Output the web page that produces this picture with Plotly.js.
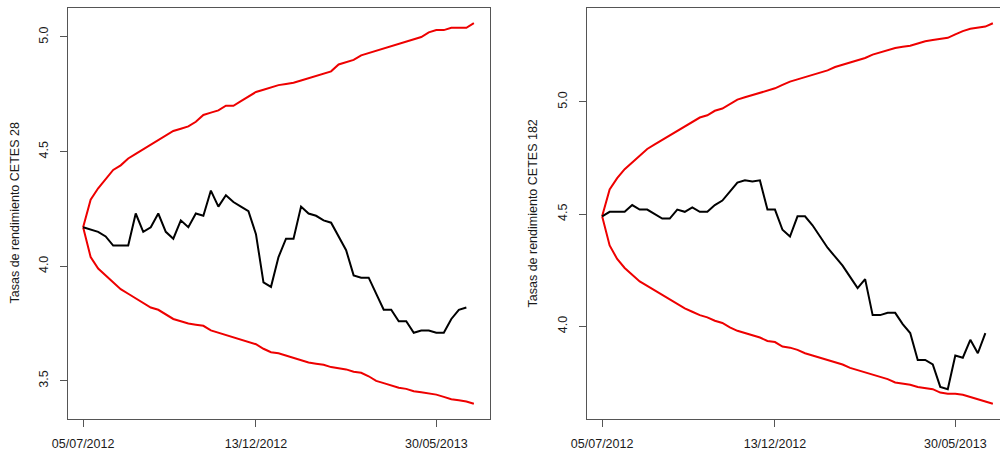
<!DOCTYPE html>
<html>
<head>
<meta charset="utf-8">
<script src="https://cdn.plot.ly/plotly-3.0.1.min.js"></script>
<style>
  html, body { margin: 0; padding: 0; overflow: hidden; background: #ffffff; }
  #chart { width: 1010px; height: 459px; }
</style>
</head>
<body>
<div id="chart"></div>
<script>
// Weekly observations starting on this date
const startDate = '2012-07-05';
const tickDates = ['2012-07-05', '2012-12-13', '2013-05-30'];

// CETES 28: observed rate and upper/lower band
const cetes28 = [4.17, 4.16, 4.15, 4.13, 4.09, 4.09, 4.09, 4.23, 4.15, 4.17,
  4.23, 4.15, 4.12, 4.20, 4.17, 4.23, 4.22, 4.33, 4.26, 4.31,
  4.28, 4.26, 4.24, 4.14, 3.93, 3.91, 4.04, 4.12, 4.12, 4.26,
  4.23, 4.22, 4.20, 4.19, 4.13, 4.07, 3.96, 3.95, 3.95, 3.88,
  3.81, 3.81, 3.76, 3.76, 3.71, 3.72, 3.72, 3.71, 3.71, 3.77,
  3.81, 3.82];
const cetes28Upper = [4.17, 4.29, 4.34, 4.38, 4.42, 4.44, 4.47, 4.49, 4.51, 4.53,
  4.55, 4.57, 4.59, 4.60, 4.61, 4.63, 4.66, 4.67, 4.68, 4.70,
  4.70, 4.72, 4.74, 4.76, 4.77, 4.78, 4.79, 4.795, 4.80, 4.81,
  4.82, 4.83, 4.84, 4.85, 4.88, 4.89, 4.90, 4.92, 4.93, 4.94,
  4.95, 4.96, 4.97, 4.98, 4.99, 5.00, 5.02, 5.03, 5.03, 5.04,
  5.04, 5.04, 5.06];
const cetes28Lower = [4.17, 4.04, 3.99, 3.96, 3.93, 3.90, 3.88, 3.86, 3.84, 3.82,
  3.81, 3.79, 3.77, 3.76, 3.75, 3.745, 3.74, 3.72, 3.71, 3.70,
  3.69, 3.68, 3.67, 3.66, 3.64, 3.625, 3.62, 3.61, 3.60, 3.59,
  3.58, 3.575, 3.57, 3.56, 3.555, 3.55, 3.54, 3.535, 3.52, 3.50,
  3.49, 3.48, 3.47, 3.465, 3.455, 3.45, 3.445, 3.44, 3.43, 3.42,
  3.415, 3.41, 3.40];

// CETES 182: observed rate and upper/lower band
const cetes182 = [4.49, 4.51, 4.51, 4.51, 4.54, 4.52, 4.52, 4.50, 4.48, 4.48,
  4.52, 4.51, 4.53, 4.51, 4.51, 4.54, 4.56, 4.60, 4.64, 4.65,
  4.645, 4.65, 4.52, 4.52, 4.43, 4.40, 4.49, 4.49, 4.45, 4.40,
  4.35, 4.31, 4.27, 4.22, 4.17, 4.21, 4.05, 4.05, 4.06, 4.06,
  4.01, 3.97, 3.85, 3.85, 3.83, 3.73, 3.72, 3.87, 3.86, 3.94,
  3.88, 3.97];
const cetes182Upper = [4.49, 4.61, 4.66, 4.70, 4.73, 4.76, 4.79, 4.81, 4.83, 4.85,
  4.87, 4.89, 4.91, 4.93, 4.94, 4.96, 4.97, 4.99, 5.01, 5.02,
  5.03, 5.04, 5.05, 5.06, 5.075, 5.09, 5.10, 5.11, 5.12, 5.13,
  5.14, 5.155, 5.165, 5.175, 5.185, 5.195, 5.21, 5.22, 5.23, 5.24,
  5.245, 5.25, 5.26, 5.27, 5.275, 5.28, 5.285, 5.30, 5.315, 5.325,
  5.33, 5.335, 5.35];
const cetes182Lower = [4.49, 4.36, 4.30, 4.26, 4.23, 4.20, 4.18, 4.16, 4.14, 4.12,
  4.10, 4.08, 4.065, 4.05, 4.04, 4.025, 4.015, 3.995, 3.98, 3.97,
  3.96, 3.95, 3.935, 3.93, 3.91, 3.905, 3.895, 3.88, 3.87, 3.86,
  3.85, 3.84, 3.83, 3.815, 3.805, 3.795, 3.785, 3.775, 3.765, 3.75,
  3.745, 3.74, 3.73, 3.725, 3.72, 3.705, 3.70, 3.70, 3.695, 3.685,
  3.675, 3.665, 3.655];

const yTitles = ['Tasas de rendimiento CETES 28', 'Tasas de rendimiento CETES 182'];

const DAY = 86400000;
function weeklyDates(n) {
  const d0 = new Date(startDate + 'T00:00:00Z').getTime();
  return Array.from({ length: n }, (_, i) => new Date(d0 + i * 7 * DAY).toISOString().slice(0, 10));
}

// base-graphics style axis limits: data range padded by 4% on each side
function paddedRange(values) {
  const lo = Math.min(...values), hi = Math.max(...values);
  const pad = (hi - lo) * 0.04;
  return [lo - pad, hi + pad];
}
function paddedDateRange(dates) {
  const a = new Date(dates[0] + 'T00:00:00Z').getTime();
  const b = new Date(dates[dates.length - 1] + 'T00:00:00Z').getTime();
  const pad = (b - a) * 0.04;
  return [new Date(a - pad).toISOString(), new Date(b + pad).toISOString()];
}

const W = 1010, H = 459;
const FONT = 'Liberation Sans, Arial, Helvetica, sans-serif';
const AXIS_COLOR = '#555555';

const panels = [
  { obs: cetes28, up: cetes28Upper, lo: cetes28Lower, x0: 67.5, x1: 489.5, titleX: 14 },
  { obs: cetes182, up: cetes182Upper, lo: cetes182Lower, x0: 586.5, x1: 1008.5, titleX: 532 }
];

const traces = [];
const layout = {
  width: W, height: H,
  margin: { l: 0, r: 0, t: 0, b: 0 },
  paper_bgcolor: '#ffffff', plot_bgcolor: '#ffffff',
  showlegend: false,
  font: { family: FONT, size: 13, color: '#1a1a1a' },
  annotations: []
};

panels.forEach((p, k) => {
  const n = k + 1;
  const xa = n === 1 ? 'x' : 'x' + n;
  const ya = n === 1 ? 'y' : 'y' + n;
  const bandDates = weeklyDates(p.up.length);
  const obsDates = weeklyDates(p.obs.length);

  traces.push({ x: bandDates, y: p.up, xaxis: xa, yaxis: ya, type: 'scatter', mode: 'lines',
    line: { color: '#ee0000', width: 2 }, hoverinfo: 'skip' });
  traces.push({ x: bandDates, y: p.lo, xaxis: xa, yaxis: ya, type: 'scatter', mode: 'lines',
    line: { color: '#ee0000', width: 2 }, hoverinfo: 'skip' });
  traces.push({ x: obsDates, y: p.obs, xaxis: xa, yaxis: ya, type: 'scatter', mode: 'lines',
    line: { color: '#000000', width: 2 } });

  const top = 8, bottom = 419;
  layout['xaxis' + (n === 1 ? '' : n)] = {
    domain: [p.x0 / W, p.x1 / W],
    anchor: ya,
    type: 'date',
    range: paddedDateRange(bandDates),
    tickvals: tickDates,
    tickformat: '%d/%m/%Y',
    ticks: 'outside', ticklen: 7, tickcolor: AXIS_COLOR, tickwidth: 1,
    ticklabelstandoff: 6,
    showline: true, mirror: true, linecolor: AXIS_COLOR, linewidth: 1,
    showgrid: false, zeroline: false,
    tickfont: { family: FONT, size: 12.5, color: '#1a1a1a' }
  };
  layout['yaxis' + (n === 1 ? '' : n)] = {
    domain: [1 - bottom / H, 1 - top / H],
    anchor: xa,
    range: paddedRange(p.obs.concat(p.up, p.lo)),
    dtick: 0.5, tick0: 0, tickformat: '.1f',
    tickangle: -90,
    ticks: 'outside', ticklen: 7, tickcolor: AXIS_COLOR, tickwidth: 1,
    ticklabelstandoff: 7,
    showline: true, mirror: true, linecolor: AXIS_COLOR, linewidth: 1,
    showgrid: false, zeroline: false,
    tickfont: { family: FONT, size: 12.5, color: '#1a1a1a' }
  };
  layout.annotations.push({
    text: yTitles[k], xref: 'paper', yref: 'paper',
    x: p.titleX / W, y: 1 - 213.5 / H, xanchor: 'center', yanchor: 'middle',
    textangle: -90, showarrow: false,
    font: { family: FONT, size: 12.5, color: '#1a1a1a' }
  });
});

Plotly.newPlot('chart', traces, layout, { displayModeBar: false, staticPlot: true });
</script>
</body>
</html>
